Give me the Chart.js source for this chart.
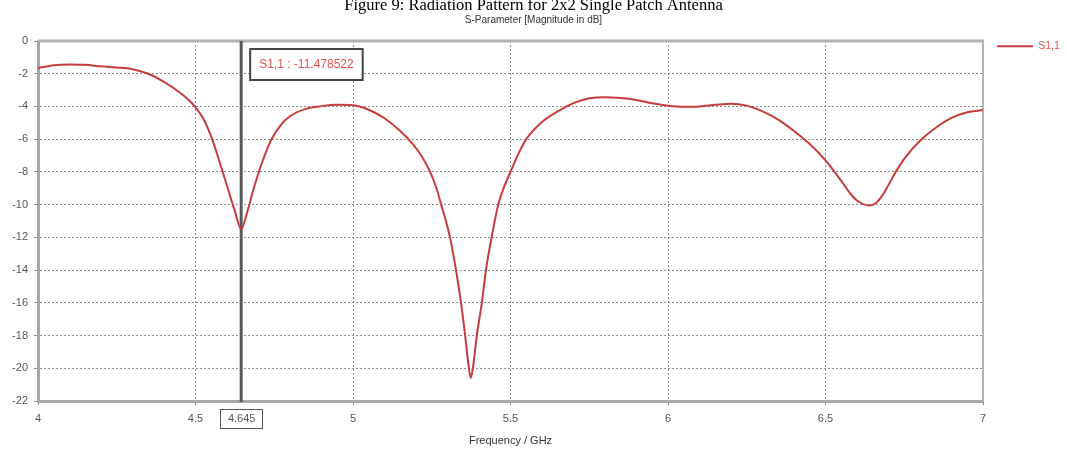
<!DOCTYPE html>
<html><head><meta charset="utf-8">
<script src="https://cdn.jsdelivr.net/npm/chart.js@4.4.0/dist/chart.umd.min.js"></script>
<style>html,body{margin:0;padding:0;background:#fff;}canvas{display:block;}</style>
</head><body>
<canvas id="c" width="1067" height="451"></canvas>
<script>
// ---- data ----
const freqGHz = [4.00,4.05,4.10,4.15,4.20,4.25,4.30,4.35,4.40,4.45,4.475,4.50,4.525,4.55,4.575,4.60,4.625,4.645,4.665,4.685,4.71,4.74,4.77,4.80,4.85,4.90,4.95,5.00,5.05,5.10,5.15,5.19,5.22,5.245,5.265,5.28,5.295,5.308,5.327,5.343,5.356,5.366,5.374,5.382,5.393,5.409,5.422,5.44,5.461,5.48,5.50,5.525,5.55,5.60,5.65,5.70,5.75,5.80,5.85,5.90,5.95,6.00,6.05,6.10,6.15,6.20,6.25,6.30,6.35,6.40,6.45,6.50,6.55,6.58,6.60,6.62,6.64,6.66,6.68,6.70,6.72,6.75,6.80,6.85,6.90,6.95,7.00];
const s11dB   = [-1.65,-1.48,-1.43,-1.45,-1.55,-1.62,-1.72,-2.0,-2.5,-3.15,-3.55,-4.05,-4.75,-5.85,-7.3,-8.85,-10.4,-11.48,-10.4,-9.0,-7.5,-6.05,-5.15,-4.6,-4.15,-3.98,-3.9,-3.93,-4.2,-4.72,-5.5,-6.3,-7.1,-8.0,-9.0,-10.0,-11.0,-12.0,-14.0,-16.0,-18.0,-19.7,-20.6,-19.8,-18.0,-16.0,-14.0,-12.0,-10.0,-8.9,-8.0,-6.9,-6.0,-4.95,-4.3,-3.8,-3.5,-3.43,-3.48,-3.6,-3.8,-3.95,-4.02,-4.0,-3.9,-3.83,-3.95,-4.3,-4.8,-5.5,-6.3,-7.3,-8.55,-9.35,-9.75,-9.97,-10.05,-9.9,-9.45,-8.8,-8.1,-7.2,-6.1,-5.3,-4.7,-4.35,-4.22];
const xTickValues = [4,4.5,5,5.5,6,6.5,7];
const yTickValues = [0,-2,-4,-6,-8,-10,-12,-14,-16,-18,-20,-22];
const seriesLabel = 'S1,1';
const markerFreq = 4.645;
const markerValue = -11.478522;
const titleText = 'Figure 9: Radiation Pattern for 2x2 Single Patch Antenna';
const subtitleText = 'S-Parameter [Magnitude in dB]';
const xTitle = 'Frequency / GHz';

const lineColor = 'rgb(200,60,60)';
const labelColor = 'rgb(225,80,80)';
const tickColor = '#555';
const gridColor = '#8c8c8c';
const axisColor = '#a8a8a8';

const points = freqGHz.map((f, i) => ({x: f, y: s11dB[i]}));

const markerPlugin = {
  id: 'marker',
  beforeDatasetsDraw(chart) {
    const {ctx, chartArea: a, scales: {x}} = chart;
    ctx.save();
    ctx.strokeStyle = '#b4b4b4';
    ctx.lineWidth = 3;
    ctx.beginPath(); ctx.moveTo(a.left, a.top); ctx.lineTo(a.right + 1, a.top); ctx.stroke();
    ctx.lineWidth = 2;
    ctx.beginPath(); ctx.moveTo(a.right, a.top); ctx.lineTo(a.right, a.bottom); ctx.stroke();
    const px = x.getPixelForValue(markerFreq);
    ctx.strokeStyle = '#585858';
    ctx.lineWidth = 3;
    ctx.beginPath(); ctx.moveTo(px, a.top); ctx.lineTo(px, a.bottom + 1); ctx.stroke();
    ctx.restore();
  },
  afterDatasetsDraw(chart) {
    const {ctx, chartArea: a, scales: {x}} = chart;
    const px = x.getPixelForValue(markerFreq);
    ctx.save();
    ctx.font = '12px "Liberation Sans", Arial, sans-serif';
    const txt = seriesLabel + ' : ' + markerValue.toFixed(6);
    const tw = ctx.measureText(txt).width;
    const bx = px + 9, by = a.top + 8, bw = tw + 18, bh = 31;
    ctx.fillStyle = '#fff';
    ctx.fillRect(bx, by, bw, bh);
    ctx.strokeStyle = '#444';
    ctx.lineWidth = 2;
    ctx.strokeRect(bx, by, bw, bh);
    ctx.fillStyle = labelColor;
    ctx.textBaseline = 'middle';
    ctx.textAlign = 'left';
    ctx.fillText(txt, bx + 9, by + bh / 2);
    ctx.font = '11px "Liberation Sans", Arial, sans-serif';
    const xt = String(markerFreq);
    const xw = ctx.measureText(xt).width + 14;
    const xb = a.bottom + 8;
    ctx.fillStyle = '#fff';
    ctx.fillRect(px - xw / 2, xb, xw, 19);
    ctx.strokeStyle = '#555';
    ctx.lineWidth = 1;
    ctx.strokeRect(Math.round(px - xw / 2) + 0.5, xb + 0.5, Math.round(xw), 19);
    ctx.fillStyle = tickColor;
    ctx.textAlign = 'center';
    ctx.fillText(xt, px + 0.5, xb + 10);
    ctx.restore();
  }
};

new Chart(document.getElementById('c'), {
  type: 'line',
  data: {
    datasets: [{
      label: seriesLabel,
      data: points,
      borderColor: lineColor,
      backgroundColor: lineColor,
      borderWidth: 2,
      pointRadius: 0,
      cubicInterpolationMode: 'monotone',
      fill: false
    }]
  },
  options: {
    responsive: false,
    animation: false,
    devicePixelRatio: 1,
    layout: {padding: 0},
    plugins: {
      tooltip: {enabled: false},
      title: {
        display: true, text: titleText, color: '#000',
        font: {family: '"Liberation Serif", "Times New Roman", serif', size: 16.5, weight: 'normal', lineHeight: 1},
        padding: {top: -3, bottom: 0}
      },
      subtitle: {
        display: true, text: subtitleText, color: '#333',
        font: {family: '"Liberation Sans", Arial, sans-serif', size: 10, lineHeight: 1.2},
        padding: {top: 1, bottom: 14.5}
      },
      legend: {
        position: 'right', align: 'start', maxWidth: 84, fullSize: false,
        title: {display: true, text: ' ', font: {size: 1, lineHeight: 1}, padding: {top: 0, bottom: -15}},
        labels: {
          boxWidth: 36, boxHeight: 2, padding: 14, color: labelColor,
          font: {family: '"Liberation Sans", Arial, sans-serif', size: 10.5},
          generateLabels(chart) {
            const items = Chart.defaults.plugins.legend.labels.generateLabels(chart);
            items.forEach(it => { it.lineWidth = 0; it.fillStyle = lineColor; it.fontColor = labelColor; });
            return items;
          }
        }
      }
    },
    scales: {
      x: {
        type: 'linear', min: 4, max: 7,
        afterBuildTicks: s => { s.ticks = xTickValues.map(v => ({value: v})); },
        afterFit: s => { s.height = 50; },
        ticks: {color: tickColor, padding: 7, maxRotation: 0, callback: v => String(v), font: {family: '"Liberation Sans", Arial, sans-serif', size: 11}},
        grid: {color: gridColor, lineWidth: 1, tickLength: 4},
        border: {display: true, color: axisColor, width: 3, dash: [2, 2]},
        title: {display: true, text: xTitle, color: '#333', font: {family: '"Liberation Sans", Arial, sans-serif', size: 11}, padding: {top: 0, bottom: 3}}
      },
      y: {
        type: 'linear', min: -22, max: 0,
        afterBuildTicks: s => { s.ticks = yTickValues.map(v => ({value: v})); },
        afterFit: s => { s.width = 38; },
        ticks: {color: tickColor, padding: 6, callback: v => String(v), font: {family: '"Liberation Sans", Arial, sans-serif', size: 11}},
        grid: {color: gridColor, lineWidth: 1, tickLength: 4},
        border: {display: true, color: axisColor, width: 3, dash: [2, 2]}
      }
    }
  },
  plugins: [markerPlugin]
});
</script>
</body></html>
